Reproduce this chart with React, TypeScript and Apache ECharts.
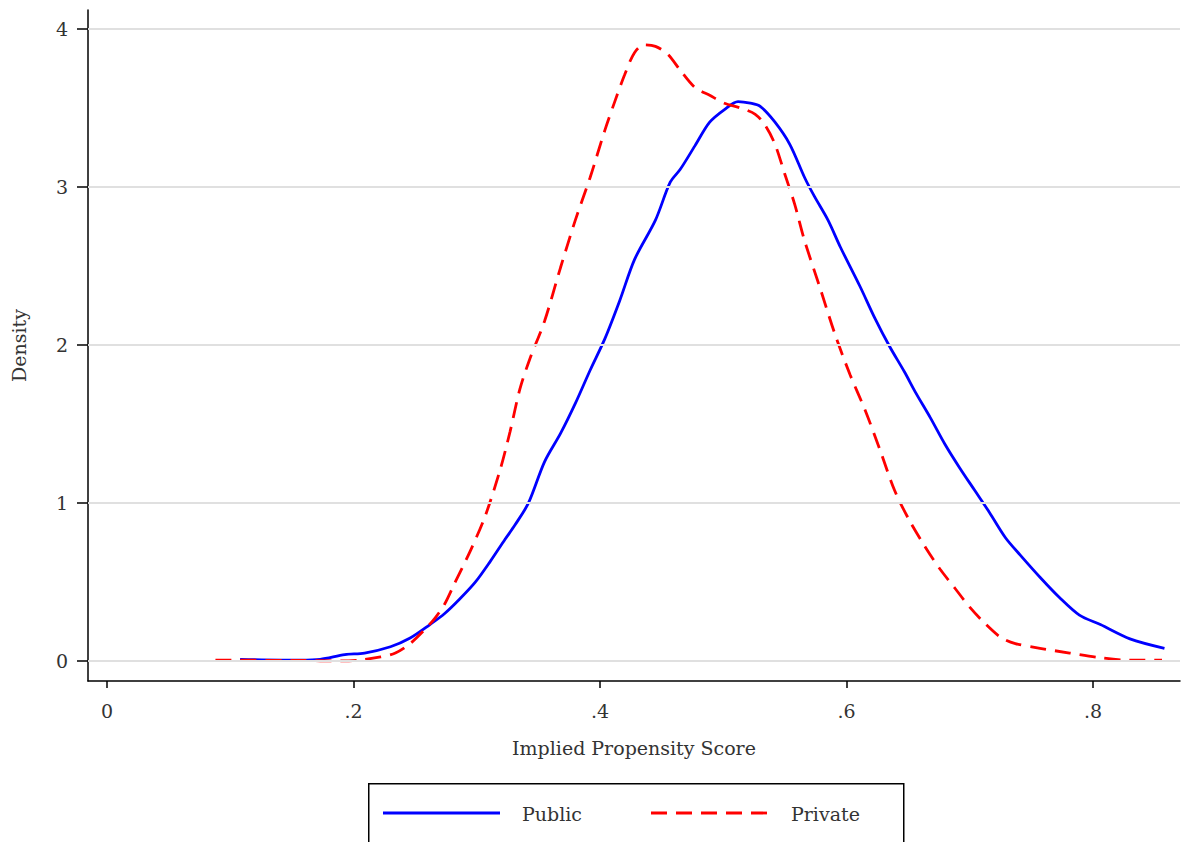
import React, { useEffect, useRef } from "react";
import * as echarts from "echarts";

const xTicks = [0, 0.2, 0.4, 0.6, 0.8];
const yTicks = [0, 1, 2, 3, 4];
const legendNames = ["Public", "Private"];

const publicX = [0.108, 0.157, 0.173, 0.193, 0.209, 0.23, 0.246, 0.262, 0.274, 0.286, 0.299, 0.311, 0.323, 0.331, 0.342, 0.355, 0.368, 0.38, 0.392, 0.404, 0.416, 0.428, 0.445, 0.457, 0.465, 0.477, 0.489, 0.501, 0.512, 0.522, 0.53, 0.542, 0.554, 0.566, 0.574, 0.585, 0.595, 0.611, 0.623, 0.635, 0.647, 0.656, 0.668, 0.68, 0.692, 0.704, 0.716, 0.729, 0.741, 0.757, 0.773, 0.789, 0.806, 0.83, 0.858];
const publicY = [0.01, 0.005, 0.01, 0.04, 0.05, 0.09, 0.145, 0.23, 0.3, 0.39, 0.5, 0.63, 0.77, 0.86, 1.0, 1.26, 1.44, 1.63, 1.84, 2.04, 2.28, 2.54, 2.79, 3.03, 3.11, 3.26, 3.41, 3.49, 3.54, 3.53, 3.51, 3.41, 3.27, 3.06, 2.94, 2.79, 2.62, 2.37, 2.17, 1.99, 1.83, 1.7, 1.54, 1.37, 1.22, 1.08, 0.94, 0.78, 0.67, 0.53, 0.4, 0.29, 0.23, 0.14, 0.08];

const privateX = [0.088, 0.157, 0.189, 0.205, 0.222, 0.234, 0.246, 0.258, 0.266, 0.274, 0.282, 0.295, 0.307, 0.319, 0.327, 0.335, 0.343, 0.355, 0.368, 0.38, 0.392, 0.404, 0.412, 0.42, 0.428, 0.436, 0.445, 0.455, 0.465, 0.477, 0.489, 0.501, 0.514, 0.526, 0.534, 0.542, 0.55, 0.558, 0.566, 0.579, 0.591, 0.603, 0.615, 0.627, 0.639, 0.651, 0.664, 0.676, 0.688, 0.7, 0.712, 0.725, 0.737, 0.757, 0.781, 0.806, 0.83, 0.856];
const privateY = [0.005, 0.003, 0.0, 0.005, 0.025, 0.05, 0.11, 0.2, 0.27, 0.36, 0.49, 0.7, 0.92, 1.21, 1.45, 1.72, 1.91, 2.15, 2.49, 2.79, 3.06, 3.36, 3.54, 3.71, 3.85, 3.9, 3.89, 3.84, 3.74, 3.63, 3.58, 3.53, 3.5, 3.46, 3.39, 3.27, 3.08, 2.89, 2.66, 2.35, 2.06, 1.81, 1.59, 1.34, 1.08, 0.89, 0.72, 0.58, 0.46, 0.34, 0.24, 0.15, 0.11, 0.08, 0.05, 0.02, 0.005, 0.005];

const FONT = "DejaVu Serif";
const FS = 19;
const TXT = "#333333";
const BLUE = "#0000ff";
const RED = "#ff0000";

export default function App() {
  const ref = useRef<HTMLDivElement>(null);
  useEffect(() => {
    if (!ref.current) return;
    const chart = echarts.init(ref.current, undefined, { renderer: "svg" });
    const pub = publicX.map((x, i) => [x, publicY[i]]);
    const pri = privateX.map((x, i) => [x, privateY[i]]);
    chart.setOption({
      animation: false,
      backgroundColor: "#ffffff",
      textStyle: { fontFamily: FONT },
      grid: { left: 88, right: 1, top: 10, bottom: 161, containLabel: false },
      xAxis: {
        type: "value",
        min: -0.0154,
        max: 0.8706,
        name: "Implied Propensity Score",
        nameLocation: "middle",
        nameGap: 57,
        nameTextStyle: { fontFamily: FONT, fontSize: FS, color: TXT },
        axisLine: { show: true, onZero: false, lineStyle: { color: "#000", width: 1.5 } },
        axisTick: { show: true, length: 7, customValues: xTicks, lineStyle: { color: "#000", width: 1.5 } },
        axisLabel: {
          customValues: xTicks,
          margin: 20,
          fontFamily: FONT,
          fontSize: FS,
          color: TXT,
          formatter: (v: number) => (v === 0 ? "0" : String(Number(v.toFixed(1))).replace(/^0/, "")),
        },
        splitLine: { show: false },
      },
      yAxis: {
        type: "value",
        min: -0.127,
        max: 4.12,
        name: "Density",
        nameLocation: "middle",
        nameGap: 60,
        nameTextStyle: { fontFamily: FONT, fontSize: FS, color: TXT },
        axisLine: { show: true, onZero: false, lineStyle: { color: "#000", width: 1.5 } },
        axisTick: { show: true, length: 11, customValues: yTicks, lineStyle: { color: "#000", width: 1.5 } },
        axisLabel: {
          customValues: yTicks,
          margin: 20,
          fontFamily: FONT,
          fontSize: FS,
          color: TXT,
          formatter: (v: number) => String(Math.round(v)),
        },
        splitLine: { show: false },
      },
      graphic: [
        {
          type: "rect",
          left: 368,
          top: 783,
          shape: { width: 535, height: 90 },
          style: { fill: "#fff", stroke: "#000", lineWidth: 1.5 },
          z: 10,
        },
        {
          type: "line",
          shape: { x1: 383, y1: 813, x2: 500, y2: 813 },
          style: { stroke: BLUE, lineWidth: 2.8 },
          z: 11,
        },
        {
          type: "text",
          x: 522,
          y: 814,
          style: { text: legendNames[0], font: `${FS}px '${FONT}'`, fill: TXT, verticalAlign: "middle", textAlign: "left" },
          z: 11,
        },
        {
          type: "line",
          shape: { x1: 651, y1: 813, x2: 768, y2: 813 },
          style: { stroke: RED, lineWidth: 2.8, lineDash: [16, 9] },
          z: 11,
        },
        {
          type: "text",
          x: 791,
          y: 814,
          style: { text: legendNames[1], font: `${FS}px '${FONT}'`, fill: TXT, verticalAlign: "middle", textAlign: "left" },
          z: 11,
        },
      ],
      series: [
        {
          name: "Gridlines",
          type: "line",
          data: [],
          silent: true,
          markLine: {
            silent: true,
            symbol: "none",
            label: { show: false },
            lineStyle: { color: "#e0e0e0", width: 2, type: "solid" },
            data: yTicks.map((v) => ({ yAxis: v })),
          },
          z: 1,
        },
        {
          name: legendNames[0],
          type: "line",
          data: pub,
          smooth: 0.3,
          showSymbol: false,
          symbol: "none",
          itemStyle: { color: BLUE },
          lineStyle: { color: BLUE, width: 2.8 },
          z: 3,
        },
        {
          name: legendNames[1],
          type: "line",
          data: pri,
          smooth: 0.3,
          showSymbol: false,
          symbol: "none",
          itemStyle: { color: RED },
          lineStyle: { color: RED, width: 2.8, type: [16, 9] },
          z: 4,
        },
      ],
    });
    return () => chart.dispose();
  }, []);
  return (
    <div
      ref={ref}
      style={{ position: "fixed", left: 0, top: 0, width: 1181, height: 842, background: "#fff" }}
    />
  );
}
